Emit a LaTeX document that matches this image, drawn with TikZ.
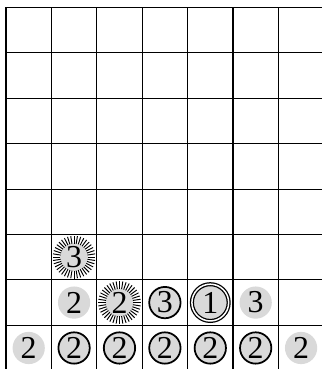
\documentclass[tikz,border=0pt]{standalone}
\usepackage{fontspec}
\setmainfont{Liberation Serif}
\definecolor{disk}{gray}{0.85}
\tikzset{
  gridline/.style={line width=0.7pt, black},
  num/.style={circle, inner sep=0pt, font=\fontsize{20}{20}\selectfont},
  plain/.style={num, fill=disk, minimum size=0.71cm},
  ring/.style={num, fill=disk, draw=black, line width=1.1pt, minimum size=0.69cm},
  dring/.style={num, fill=disk, draw=black, line width=0.8pt, double=white, double distance=0.95pt, minimum size=0.81cm},
  burst/.style={num, fill=disk, minimum size=0.62cm},
  ray/.style={line width=0.6pt, black}
}
\begin{document}
\begin{tikzpicture}
\useasboundingbox (-0.132,-7.963) rectangle (6.96,0.165);
% grid
\foreach \y in {0,...,7} \draw[gridline] (0,-\y) -- (6.96,-\y);
\foreach \x in {0,...,6} \draw[gridline] (\x,0) -- (\x,-7.963);
% sunbursts
\node[burst] (b1) at (1.5,-5.5) {3};
\node[burst] (b2) at (2.5,-6.5) {2};
\foreach \n in {b1,b2}
  \foreach \a in {0,9,...,351}
    \draw[ray] (\n.center) ++(\a:0.30) -- ++(\a:0.17);
% row 7
\node[plain] (p1) at (1.5,-6.5) {2};
\node[ring]  (r1) at (3.5,-6.5) {3};
\node[dring] (d1) at (4.5,-6.5) {1};
\node[plain] (p2) at (5.5,-6.5) {3};
% bottom row
\node[plain] (p3) at (0.5,-7.5) {2};
\node[ring]  (r2) at (1.5,-7.5) {2};
\node[ring]  (r3) at (2.5,-7.5) {2};
\node[ring]  (r4) at (3.5,-7.5) {2};
\node[ring]  (r5) at (4.5,-7.5) {2};
\node[ring]  (r6) at (5.5,-7.5) {2};
\node[plain] (p4) at (6.5,-7.5) {2};
\end{tikzpicture}
\end{document}
